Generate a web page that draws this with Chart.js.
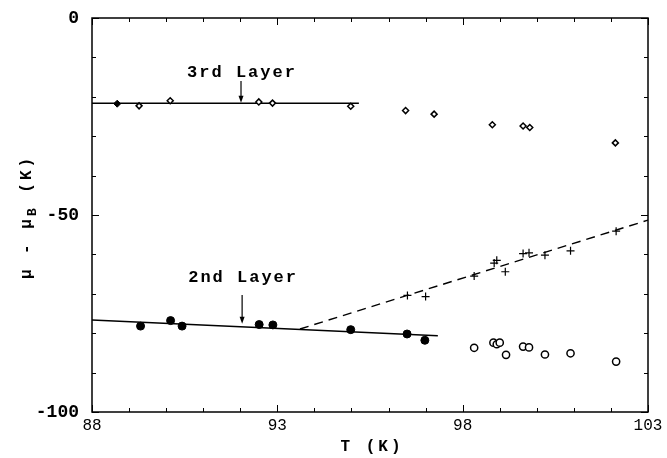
<!DOCTYPE html>
<html>
<head>
<meta charset="utf-8">
<script src="https://cdn.jsdelivr.net/npm/chart.js@4.4.0/dist/chart.umd.min.js"></script>
<style>
html,body{margin:0;padding:0;background:#fff;}
#wrap{width:667px;height:458px;position:relative;}
</style>
</head>
<body>
<div id="wrap"><canvas id="c" width="667" height="458"></canvas></div>
<script>
// ---- Data (T in K, mu - mu_B in K) ----
const thirdFilledT  = [88.68];
const thirdFilledMu = [-21.75];
const thirdOpenT  = [89.27, 90.11, 92.50, 92.87, 94.98, 96.46, 97.23, 98.80, 99.63, 99.81, 102.12];
const thirdOpenMu = [-22.3, -21.0, -21.3, -21.6, -22.4, -23.5, -24.4, -27.1, -27.4, -27.8, -31.7];
const secondFilledT  = [89.31, 90.12, 90.43, 92.51, 92.88, 94.98, 96.50, 96.98];
const secondFilledMu = [-78.2, -76.8, -78.2, -77.8, -77.9, -79.1, -80.2, -81.8];
const secondOpenT  = [98.31, 98.83, 98.92, 99.00, 99.17, 99.63, 99.79, 100.22, 100.91, 102.14];
const secondOpenMu = [-83.7, -82.4, -82.8, -82.4, -85.5, -83.4, -83.6, -85.4, -85.1, -87.2];
const crossT  = [96.51, 97.00, 98.31, 98.85, 98.92, 99.15, 99.63, 99.79, 100.22, 100.91, 102.14];
const crossMu = [-70.4, -70.7, -65.5, -62.2, -61.5, -64.4, -59.8, -59.6, -60.2, -59.1, -54.1];
// fitted lines
const thirdLineT  = [88, 95.2];
const thirdLineMu = [-21.65, -21.65];
const secondLineT  = [88, 97.33];
const secondLineMu = [-76.65, -80.63];
const dashLineT  = [93.61, 103];
const dashLineMu = [-78.93, -51.3];
// axis ticks
const xTickLabels = [88, 93, 98, 103];
const yTickLabels = [0, -50, -100];
// annotations: label text, x, label y, arrow from y, arrow to y
const annLabels = ["3rd Layer", "2nd Layer"];
const annT      = [92.02, 92.05];
const annLabelMu = [-14.0, -66.0];
const annArrowFrom = [-16.0, -70.3];
const annArrowTo   = [-21.5, -77.6];

function pts(xs, ys){ return xs.map((x,i)=>({x:x, y:ys[i]})); }

const lineDs = (xs, ys, dash) => ({
  type:'line', data:pts(xs,ys), borderColor:'#000', borderWidth:1.4,
  borderDash: dash || [], pointRadius:0, fill:false, showLine:true, order:2
});

const framePlugin = {
  id:'frame',
  afterDraw(chart){
    const ctx = chart.ctx, a = chart.chartArea;
    const xs = chart.scales.x, ys = chart.scales.y;
    ctx.save();
    ctx.strokeStyle = '#000';
    ctx.lineWidth = 1.5;
    ctx.strokeRect(a.left, a.top, a.right - a.left, a.bottom - a.top);
    ctx.lineWidth = 1;
    for (let v = 88; v <= 103; v += 1) {
      const px = Math.round(xs.getPixelForValue(v)) + 0.5;
      const len = xTickLabels.includes(v) ? 7 : 4;
      ctx.beginPath();
      ctx.moveTo(px, a.bottom); ctx.lineTo(px, a.bottom - len);
      ctx.moveTo(px, a.top); ctx.lineTo(px, a.top + len);
      ctx.stroke();
    }
    for (let v = -100; v <= 0; v += 10) {
      const py = Math.round(ys.getPixelForValue(v)) + 0.5;
      const len = yTickLabels.includes(v) ? 7 : 4;
      ctx.beginPath();
      ctx.moveTo(a.left, py); ctx.lineTo(a.left + len, py);
      ctx.moveTo(a.right, py); ctx.lineTo(a.right - len, py);
      ctx.stroke();
    }
    // annotations
    ctx.fillStyle = '#000';
    ctx.font = 'bold 17px "Liberation Mono", monospace';
    ctx.textAlign = 'center';
    ctx.textBaseline = 'middle';
    ctx.letterSpacing = '2px';
    for (let i = 0; i < annLabels.length; i++) {
      const px = xs.getPixelForValue(annT[i]);
      ctx.fillText(annLabels[i], px + 1, ys.getPixelForValue(annLabelMu[i]));
      const y0 = ys.getPixelForValue(annArrowFrom[i]);
      const y1 = ys.getPixelForValue(annArrowTo[i]);
      ctx.beginPath();
      ctx.lineWidth = 1.2;
      ctx.moveTo(px, y0); ctx.lineTo(px, y1 - 5); ctx.stroke();
      ctx.beginPath();
      ctx.moveTo(px - 2.5, y1 - 7); ctx.lineTo(px + 2.5, y1 - 7); ctx.lineTo(px, y1); ctx.closePath();
      ctx.fill();
    }
    // x title
    ctx.font = 'bold 16px "Liberation Mono", monospace';
    ctx.letterSpacing = '3px';
    ctx.textAlign = 'center';
    ctx.fillText('T (K)', (a.left + a.right) / 2 + 2, 447);
    // y title with subscript
    ctx.save();
    ctx.translate(27, 217);
    ctx.rotate(-Math.PI / 2);
    ctx.textAlign = 'left';
    ctx.textBaseline = 'middle';
    const f1 = 'bold 16px "Liberation Mono", monospace';
    const f2 = 'bold 13px "Liberation Mono", monospace';
    const parts = [['μ - μ', f1, 0], ['B', f2, 6], [' (K)', f1, 0]];
    ctx.letterSpacing = '3px';
    let w = 0;
    parts.forEach(p => { ctx.font = p[1]; w += ctx.measureText(p[0]).width; });
    let x = -w / 2;
    parts.forEach(p => { ctx.font = p[1]; ctx.fillText(p[0], x, p[2]); x += ctx.measureText(p[0]).width; });
    ctx.restore();
    ctx.restore();
  }
};

new Chart(document.getElementById('c'), {
  type: 'scatter',
  data: {
    datasets: [
      lineDs(thirdLineT, thirdLineMu),
      lineDs(secondLineT, secondLineMu),
      lineDs(dashLineT, dashLineMu, [9, 6]),
      { data: pts(thirdFilledT, thirdFilledMu), pointStyle:'rectRot', pointRadius:3.5,
        backgroundColor:'#000', borderColor:'#000', borderWidth:1 },
      { data: pts(thirdOpenT, thirdOpenMu), pointStyle:'rectRot', pointRadius:3,
        backgroundColor:'#fff', borderColor:'#000', borderWidth:1.5 },
      { data: pts(secondFilledT, secondFilledMu), pointStyle:'circle', pointRadius:4,
        backgroundColor:'#000', borderColor:'#000', borderWidth:1 },
      { data: pts(secondOpenT, secondOpenMu), pointStyle:'circle', pointRadius:3.6,
        backgroundColor:'#fff', borderColor:'#000', borderWidth:1.5 },
      { data: pts(crossT, crossMu), pointStyle:'cross', pointRadius:4,
        backgroundColor:'#000', borderColor:'#000', borderWidth:1.2 }
    ]
  },
  options: {
    responsive: false,
    animation: false,
    events: [],
    layout: { padding: { left: 0, right: 19, top: 18, bottom: 0 } },
    plugins: { legend: { display: false }, tooltip: { enabled: false } },
    scales: {
      x: {
        type: 'linear', min: 88, max: 103,
        grid: { display: false },
        border: { display: false },
        afterFit: s => { s.height = 46; },
        ticks: {
          stepSize: 1, autoSkip: false, maxRotation: 0, padding: -4,
          color: '#000',
          font: { family: '"Liberation Mono", monospace', size: 16 },
          callback: v => xTickLabels.includes(v) ? String(v) : ''
        }
      },
      y: {
        type: 'linear', min: -100, max: 0,
        grid: { display: false },
        border: { display: false },
        afterFit: s => { s.width = 92; },
        ticks: {
          stepSize: 10, autoSkip: false, padding: 5,
          color: '#000',
          font: { family: '"Liberation Mono", monospace', size: 18, weight: 'bold' },
          callback: v => yTickLabels.includes(v) ? String(v) : ''
        }
      }
    }
  },
  plugins: [framePlugin]
});
</script>
</body>
</html>
